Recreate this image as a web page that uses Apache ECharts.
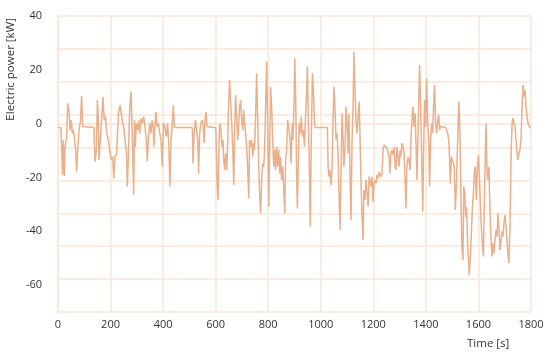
<!DOCTYPE html>
<html>
<head>
<meta charset="utf-8">
<script src="https://cdn.jsdelivr.net/npm/echarts@6/dist/echarts.min.js"></script>
<style>
html,body{margin:0;padding:0;background:#fff;}
#chart{width:550px;height:359px;}
</style>
</head>
<body>
<div id="chart"></div>
<script>
// Time [s] / electric power [kW] samples, in segments
var seg0to290 = [[0,-1.4],[11,-1.4],[14,-9.8],[17,-19.1],[20,-6.1],[24,-19.5],[27,-8.6],[33,-4.8],[37,7.5],[42,4.4],[46,-2.4],[50,1.3],[55,-3.6],[58,-2.4],[62,-4.8],[67,-9.8],[71,-17.9],[75,-9.8],[80,-2.4],[85,0.7],[90,10.3],[94,-1.1],[137,-1.4],[138,-6.1],[141,-14.1],[146,-9.8],[150,8.8],[154,0.1],[156,-13.5],[161,-6.1],[166,1.3],[171,10.0],[176,1.3],[181,2.6],[185,-3.6],[192,-6.1],[198,-11.0],[204,-13.5],[208,-12.3],[212,-20.3],[217,-12.3],[223,-11.0],[230,3.8],[236,6.9],[242,6.3],[246,0.1],[250,-1.1],[255,-6.1],[260,-10.4],[264,-23.4],[268,-11.7],[273,6.3],[278,11.9],[283,-6.1]];
var seg290to600 = [[288,-26.5],[291,1.3],[294,-8.6],[298,0.1],[303,-2.4],[307,1.3],[311,-3.6],[316,2.0],[321,0.1],[326,2.6],[331,-1.1],[336,-6.1],[340,-14.1],[344,-4.8],[349,0.1],[354,-3.6],[358,1.3],[362,-1.1],[365,-8.6],[369,-0.5],[373,4.4],[377,-1.1],[382,0.1],[387,-3.6],[392,-6.1],[397,-16.0],[401,0.1],[406,-1.1],[412,-4.8],[417,0.1],[422,-8.6],[426,-23.4],[430,-6.1],[434,-1.1],[439,6.9],[443,-1.4],[511,-1.4],[514,-14.8],[518,-3.6],[523,1.3],[526,2.0],[532,-6.1],[535,-18.5],[539,-3.6],[544,0.1],[548,1.3],[552,-0.5],[556,-7.3],[559,0.7],[563,4.4],[567,-1.1],[590,-1.4]];
var seg600to880 = [[600,-1.4],[601,-3.6],[605,-20.9],[609,-28.4],[613,-6.1],[616,0.1],[620,-2.4],[624,-8.6],[628,-6.1],[630,-12.3],[634,-17.2],[638,-11.0],[642,-17.2],[646,-6.1],[649,6.3],[653,16.2],[657,8.8],[661,0.1],[665,-8.6],[669,-22.8],[672,-3.6],[676,10.6],[680,2.6],[684,-6.1],[688,0.1],[691,6.3],[695,8.8],[699,1.3],[703,-2.4],[707,5.1],[710,0.1],[714,-3.6],[718,-8.6],[722,-17.2],[726,-27.8],[729,-6.1],[733,-8.6],[737,-6.1],[741,-12.3],[745,-7.3],[748,-9.8],[752,2.6],[756,18.7],[760,1.3],[764,-16.0],[767,-25.9],[771,-33.3],[775,-20.9],[779,-14.8],[783,-16.0],[786,-9.8],[790,6.3],[794,23.0],[798,0.1],[802,-30.9],[806,-6.1],[809,13.7],[813,6.3],[817,-6.1],[821,-16.0],[825,-9.8],[828,-17.2],[832,-8.6],[836,-16.0],[840,-9.8],[844,-18.5],[847,-12.3],[851,-20.9],[855,-16.0],[859,-24.7],[863,-33.3],[866,-13.5],[870,-9.8],[874,1.3],[878,-1.1]];
var seg880to1175 = [[883,-6.1],[887,-14.8],[891,0.1],[894,-6.1],[898,6.3],[901,24.3],[905,6.3],[908,-18.5],[911,-31.5],[915,-12.3],[918,0.1],[922,-3.6],[926,2.6],[930,-4.8],[934,-2.4],[938,-8.6],[941,0.1],[945,8.8],[949,21.2],[953,0.1],[957,-18.5],[960,-38.3],[964,-6.1],[968,18.7],[972,12.5],[976,0.1],[979,-1.4],[1025,-1.4],[1028,-16.0],[1031,-19.7],[1035,-17.2],[1039,-22.8],[1043,-16.0],[1047,2.6],[1050,13.7],[1054,6.3],[1058,-6.1],[1062,-3.6],[1066,-12.3],[1069,-24.7],[1073,-39.5],[1077,-18.5],[1081,3.8],[1085,-6.1],[1088,-16.0],[1092,-9.8],[1096,6.3],[1100,0.1],[1104,-11.0],[1107,3.8],[1111,-18.5],[1115,-35.8],[1119,-6.1],[1123,6.3],[1126,26.7],[1130,12.5],[1134,1.3],[1138,-3.6],[1142,2.6],[1146,8.2],[1149,-3.6],[1153,-20.9],[1157,-34.6],[1161,-43.3],[1164,-24.7],[1168,-28.4],[1172,-20.9]];
var seg1175to1475 = [[1180,-30.9],[1184,-19.7],[1187,-20.9],[1191,-23.4],[1195,-19.7],[1199,-29.0],[1203,-22.2],[1206,-20.9],[1210,-22.2],[1214,-19.1],[1218,-20.3],[1222,-17.9],[1225,-18.5],[1229,-19.7],[1233,-18.5],[1237,-9.8],[1241,-7.9],[1244,-8.6],[1248,-7.9],[1252,-9.2],[1256,-8.6],[1260,-12.3],[1263,-18.5],[1267,-11.0],[1271,-9.8],[1275,-11.7],[1279,-8.6],[1283,-16.0],[1286,-17.2],[1290,-8.6],[1294,-7.9],[1298,-16.0],[1302,-9.8],[1305,-12.3],[1309,-7.3],[1313,-8.6],[1317,-11.0],[1321,-20.9],[1324,-31.5],[1328,-16.0],[1332,-12.3],[1336,-13.5],[1340,-17.2],[1343,-6.1],[1347,1.3],[1351,6.3],[1355,-1.1],[1359,3.8],[1362,-6.1],[1366,-20.9],[1369,-8.6],[1373,8.8],[1376,21.8],[1380,6.3],[1384,-12.3],[1388,-32.7],[1392,-6.1],[1395,8.8],[1399,-1.1],[1403,16.8],[1407,0.1],[1411,-6.1],[1414,-23.4],[1418,-6.1],[1422,0.1],[1426,-3.6],[1430,8.8],[1433,14.4],[1437,0.1],[1441,-3.6],[1445,1.3],[1449,3.2],[1452,-2.4],[1456,-1.1],[1474,-1.4]];
var seg1475to1800 = [[1479,-2.4],[1483,-3.6],[1487,-6.1],[1490,-12.3],[1493,-22.2],[1497,-12.3],[1501,-11.7],[1504,-12.3],[1508,-16.0],[1512,-32.1],[1516,-23.4],[1520,-9.8],[1523,1.3],[1526,8.2],[1530,-6.1],[1534,-30.9],[1537,-45.7],[1541,-50.7],[1544,-23.4],[1548,-25.9],[1551,-34.6],[1555,-30.9],[1559,-45.7],[1563,-51.9],[1565,-56.3],[1569,-49.4],[1573,-40.8],[1577,-30.9],[1581,-25.9],[1584,-18.5],[1588,-16.0],[1592,-28.4],[1596,-16.0],[1600,-11.7],[1603,-18.5],[1607,-28.4],[1611,-38.3],[1615,-44.5],[1619,-49.4],[1622,-30.9],[1626,-11.7],[1629,0.1],[1633,-18.5],[1636,-20.9],[1640,-16.0],[1644,-33.3],[1648,-43.3],[1652,-49.4],[1655,-44.5],[1659,-48.2],[1663,-43.3],[1667,-39.5],[1671,-42.0],[1674,-33.3],[1678,-38.3],[1682,-47.0],[1686,-43.3],[1690,-40.1],[1693,-42.0],[1697,-37.0],[1701,-34.0],[1705,-38.3],[1709,-43.3],[1712,-48.2],[1716,-51.9],[1720,-38.3],[1724,-12.3],[1728,0.1],[1731,2.0],[1735,1.3],[1739,-1.1],[1743,-6.1],[1747,-11.0],[1750,-13.5],[1754,-11.0],[1758,-9.8],[1762,-6.1],[1766,6.3],[1770,14.4],[1773,10.0],[1777,12.5],[1781,6.3],[1785,2.6],[1789,0.1],[1792,-0.5],[1796,-1.7]];

var xTicks = [0, 200, 400, 600, 800, 1000, 1200, 1400, 1600, 1800];
var yTickLabels = [-60, -40, -20, 0, 20, 40];
var xTitle = 'Time [s]';
var yTitle = 'Electric power [kW]';

var samples = [].concat(seg0to290, seg290to600, seg600to880, seg880to1175, seg1175to1475, seg1475to1800);

var FONT = 'Open Sans';
var TXT = '#333333';
var GRID = '#fbe4d5';
var LINE = '#e9b08b';

var chart = echarts.init(document.getElementById('chart'), null, {renderer: 'canvas'});
chart.setOption({
  animation: false,
  backgroundColor: '#ffffff',
  grid: {left: 58, right: 19, top: 16, bottom: 47, containLabel: false},
  xAxis: {
    type: 'value', min: xTicks[0], max: xTicks[xTicks.length - 1], interval: xTicks[1] - xTicks[0],
    axisLine: {show: true, lineStyle: {color: GRID, width: 1.5}},
    axisTick: {show: false},
    axisLabel: {color: TXT, fontFamily: FONT, fontSize: 11, margin: 7,
      formatter: function (v) { return String(v); }},
    splitLine: {show: true, lineStyle: {color: GRID, width: 1.5}}
  },
  yAxis: [{
    type: 'value', min: -70, max: 40, interval: 10,
    axisLine: {show: true, lineStyle: {color: GRID, width: 1.5}},
    axisTick: {show: false},
    splitLine: {show: false},
    axisLabel: {
      color: TXT, fontFamily: FONT, fontSize: 11, margin: 16,
      formatter: function (v) { return yTickLabels.indexOf(v) >= 0 ? String(v) : ''; }
    }
  }, {
    type: 'value', min: 0, max: 9, interval: 1, position: 'left',
    axisLine: {show: false}, axisTick: {show: false}, axisLabel: {show: false},
    splitLine: {show: true, lineStyle: {color: GRID, width: 1.5}}
  }],
  graphic: [{
    type: 'text', left: 5, top: 18, rotation: Math.PI / 2,
    style: {text: yTitle, fill: TXT, font: '11.5px "' + FONT + '"'}
  }, {
    type: 'text', left: 467, top: 338,
    style: {text: xTitle, fill: TXT, font: '11.5px "' + FONT + '"'}
  }],
  series: [{
    type: 'line', yAxisIndex: 0, data: samples, showSymbol: false, symbol: 'none',
    lineStyle: {color: LINE, width: 1.5}, z: 3
  }]
});
</script>
</body>
</html>
